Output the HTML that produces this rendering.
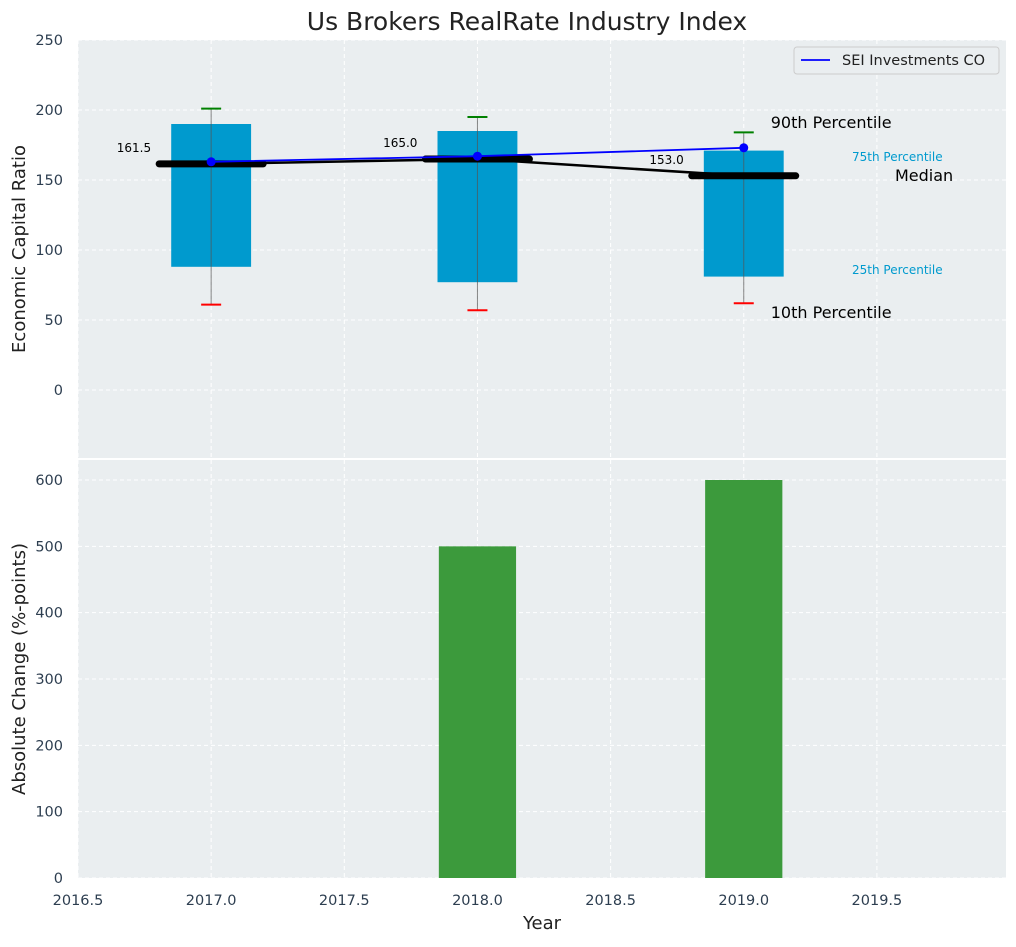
<!DOCTYPE html>
<html><head><meta charset="utf-8"><style>
body{margin:0;background:#fff;font-family:"Liberation Sans","DejaVu Sans",sans-serif}
svg text{font-family:"DejaVu Sans","Liberation Sans",sans-serif}
</style></head><body>
<svg id="c" width="1016" height="942" xmlns="http://www.w3.org/2000/svg"></svg>
<script>
const years=[2017,2018,2019];
const p10=[61,57,62];
const p25=[88,77,81];
const median=[161.5,165,153];
const p75=[190,185,171];
const p90=[201,195,184];
const sei=[163,167,173];
const absChange=[0,500,600];
const xTicks=[2016.5,2017,2017.5,2018,2018.5,2019,2019.5];
const yTopTicks=[0,50,100,150,200,250];
const yBotTicks=[0,100,200,300,400,500,600];

const NS="http://www.w3.org/2000/svg";
const svg=document.getElementById('c');
function el(t,a,txt){const e=document.createElementNS(NS,t);for(const k in a)e.setAttribute(k,a[k]);if(txt!==undefined)e.textContent=txt;svg.appendChild(e);return e;}
const L=78,R=1006;
const X=v=>L+(v-2016.5)*266.3;
const T0=40,T1=458,B0=460,B1=878;
const Yt=v=>390-v*1.4;
const Yb=v=>878-v*(398/600);

let e;
e=el('rect',{x:L,y:T0,width:R-L,height:T1-T0,fill:'#eaeef0'});

e=el('rect',{x:L,y:B0,width:R-L,height:B1-B0,fill:'#eaeef0'});


xTicks.forEach(v=>{
 e=el('line',{x1:X(v),x2:X(v),y1:T0,y2:T1,stroke:'#fff','stroke-dasharray':'4,3'});
 
 e=el('line',{x1:X(v),x2:X(v),y1:B0,y2:B1,stroke:'#fff','stroke-dasharray':'4,3'});
 
 e=el('text',{x:X(v),y:905,'text-anchor':'middle','font-size':14.5,fill:'#2d3e50'},v.toFixed(1));
 
});
yTopTicks.forEach(v=>{
 e=el('line',{x1:L,x2:R,y1:Yt(v),y2:Yt(v),stroke:'#fff','stroke-dasharray':'4,3'});
 
 e=el('text',{x:63,y:Yt(v)+5,'text-anchor':'end','font-size':14.5,fill:'#2d3e50'},v);
 
});
yBotTicks.forEach(v=>{
 e=el('line',{x1:L,x2:R,y1:Yb(v),y2:Yb(v),stroke:'#fff','stroke-dasharray':'4,3'});
 
 e=el('text',{x:63,y:Yb(v)+5,'text-anchor':'end','font-size':14.5,fill:'#2d3e50'},v);
 
});

years.forEach((y,i)=>{
 const x=X(y),w=0.3*266.3;
 e=el('rect',{x:x-w/2,y:Yt(p75[i]),width:w,height:Yt(p25[i])-Yt(p75[i]),fill:'#009ace'});
 
 e=el('line',{x1:x,x2:x,y1:Yt(p90[i]),y2:Yt(p10[i]),stroke:'#555','stroke-width':1,opacity:0.7});
 
 e=el('line',{x1:x-10,x2:x+10,y1:Yt(p90[i]),y2:Yt(p90[i]),stroke:'green','stroke-width':2});
 
 e=el('line',{x1:x-10,x2:x+10,y1:Yt(p10[i]),y2:Yt(p10[i]),stroke:'red','stroke-width':2});
 
 e=el('line',{x1:x-52,x2:x+52,y1:Yt(median[i]),y2:Yt(median[i]),stroke:'#000','stroke-width':7,'stroke-linecap':'round'});
 
 e=el('text',{x:x-60,y:Yt(median[i])-12,'text-anchor':'end','font-size':12,fill:'#000'},median[i].toFixed(1));
 
});
e=el('polyline',{points:years.map((y,i)=>X(y)+','+Yt(median[i])).join(' '),fill:'none',stroke:'#000','stroke-width':2.5});

e=el('polyline',{points:years.map((y,i)=>X(y)+','+Yt(sei[i])).join(' '),fill:'none',stroke:'#0000ff','stroke-width':1.8});

years.forEach((y,i)=>{
 e=el('circle',{cx:X(y),cy:Yt(sei[i]),r:4.5,fill:'#0000ff'});
 
});
const lx=X(2019)+27;
[['90th Percentile',lx,128,16,'#000'],['75th Percentile',852,161,12,'#009ace'],['Median',895,181,16,'#000'],['25th Percentile',852,274,12,'#009ace'],['10th Percentile',lx,318,16,'#000']].forEach(a=>{
 e=el('text',{x:a[1],y:a[2],'font-size':a[3],fill:a[4]},a[0]);
 
});
e=el('rect',{x:794,y:47,width:205,height:27,rx:3,fill:'#eaeef0',stroke:'#ccc'});

e=el('line',{x1:801,x2:830,y1:60,y2:60,stroke:'#0000ff','stroke-width':1.8});

e=el('text',{x:842,y:65,'font-size':14.5,fill:'#222'},'SEI Investments CO');


years.forEach((y,i)=>{
 const w=0.29*266.3;
 if(absChange[i]<=0)return;
 e=el('rect',{x:X(y)-w/2,y:Yb(absChange[i]),width:w,height:Yb(0)-Yb(absChange[i]),fill:'#3c9a3c'});
 
});

e=el('text',{x:527,y:30,'text-anchor':'middle','font-size':25,fill:'#222'},'Us Brokers RealRate Industry Index');

e=el('text',{x:542,y:929,'text-anchor':'middle','font-size':18,fill:'#222'},'Year');

e=el('text',{x:25,y:249,'text-anchor':'middle','font-size':18,fill:'#222',transform:'rotate(-90 25 249)'},'Economic Capital Ratio');

e=el('text',{x:25,y:669,'text-anchor':'middle','font-size':18,fill:'#222',transform:'rotate(-90 25 669)'},'Absolute Change (%-points)');

</script>
</body></html>
